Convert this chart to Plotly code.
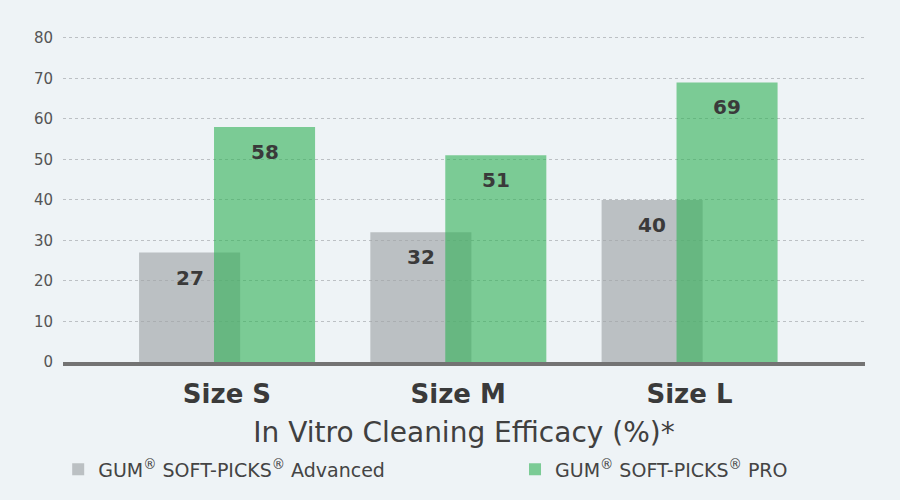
import plotly.graph_objects as go

categories = ["Size S", "Size M", "Size L"]
advanced = [27, 32, 40]
pro = [58, 51, 69]
series_names = ["GUM<sup>®</sup> SOFT-PICKS<sup>®</sup> Advanced", "GUM<sup>®</sup> SOFT-PICKS<sup>®</sup> PRO"]
y_ticks = [0, 10, 20, 30, 40, 50, 60, 70, 80]

FONT = "DejaVu Sans"
BG = "#eef3f6"
TEXT = "#3a3a3a"
BAR_W = 0.437
OFFSETS = [-0.38, -0.056]
COLORS = ["rgba(160,164,167,0.65)", "rgba(47,176,85,0.6)"]
LEGENDS = ["legend", "legend2"]

xs = list(range(len(categories)))

fig = go.Figure()
for vals, name, off, col, lg in zip([advanced, pro], series_names, OFFSETS, COLORS, LEGENDS):
    fig.add_trace(go.Bar(
        x=xs, y=vals, name=name, width=BAR_W, offset=off, legend=lg, showlegend=True,
        marker=dict(color=col, line=dict(width=0)),
    ))
    # value labels just below bar tops
    for x, v in zip(xs, vals):
        fig.add_annotation(
            x=x + off + BAR_W / 2, y=v, text=str(v), showarrow=False,
            yshift=-25, font=dict(family=FONT, size=20, color=TEXT, weight=700),
        )

legend_style = dict(
    orientation="h", xanchor="left", y=-0.314, yanchor="middle",
    font=dict(size=19, color="#444444"), bgcolor="rgba(0,0,0,0)",
)

fig.update_layout(
    width=900, height=500,
    paper_bgcolor=BG, plot_bgcolor=BG,
    margin=dict(l=63, r=35, t=20, b=136),
    barmode="overlay",
    showlegend=True,
    font=dict(family=FONT, color=TEXT),
    xaxis=dict(
        tickvals=xs, ticktext=categories, range=[-0.709, 2.759],
        tickfont=dict(size=26, color=TEXT, weight=700),
        ticks="outside", ticklen=6, tickcolor="rgba(0,0,0,0)",
        showgrid=False, zeroline=False,
        showline=True, linewidth=4, linecolor="#737373",
        title=dict(text="In Vitro Cleaning Efficacy (%)*",
                   font=dict(size=28, color="#404040"), standoff=15),
    ),
    yaxis=dict(
        range=[0, 84.4], tickvals=y_ticks,
        tickfont=dict(size=15, color="#555555"),
        ticks="outside", ticklen=6, tickcolor="rgba(0,0,0,0)",
        showgrid=True, gridcolor="#bcc0c4", griddash="dot", gridwidth=1,
        zeroline=False,
    ),
    legend=dict(x=-0.006, **legend_style),
    legend2=dict(x=0.5636, **legend_style),
)

fig.write_html("out.html", config={"displayModeBar": False},
               post_script="document.body.style.margin='0';")
